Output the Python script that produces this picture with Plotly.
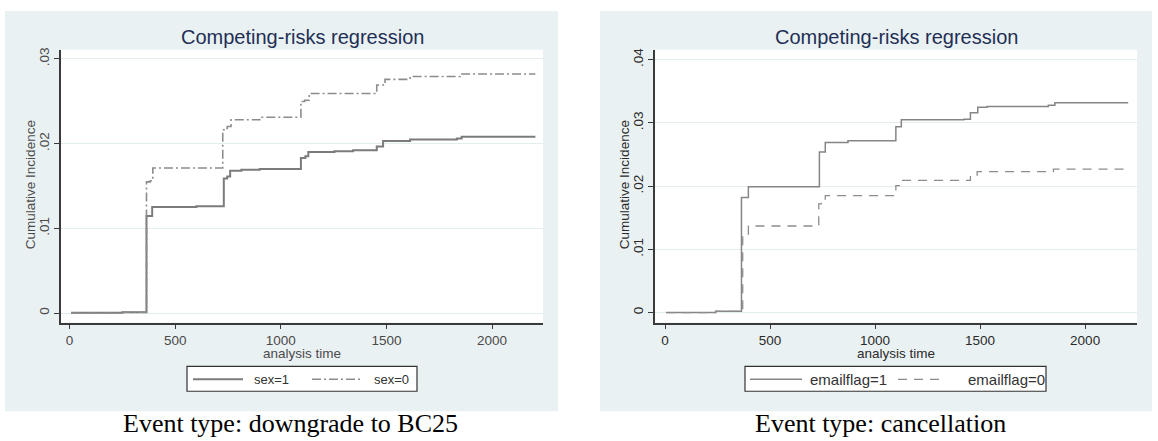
import plotly.graph_objects as go

# ---------------- data ----------------
x_ticks = [0, 500, 1000, 1500, 2000]
x_tick_labels = ["0", "500", "1000", "1500", "2000"]

left_y_ticks = [0, 0.01, 0.02, 0.03]
left_y_labels = ["0", ".01", ".02", ".03"]
right_y_ticks = [0, 0.01, 0.02, 0.03, 0.04]
right_y_labels = ["0", ".01", ".02", ".03", ".04"]

# Event type: downgrade to BC25
sex1_time = [7, 250, 364, 391, 600, 730, 746, 760, 813, 900, 1095, 1116, 1130, 1254, 1342, 1454, 1484, 1612, 1833, 1856, 2205]
sex1_ci = [0.00004, 0.0001, 0.01144, 0.0125, 0.0126, 0.01586, 0.0161, 0.0168, 0.0169, 0.0170, 0.01829, 0.0185, 0.0190, 0.0191, 0.0192, 0.01965, 0.0203, 0.02047, 0.0206, 0.0208, 0.0208]
sex0_time = [7, 250, 364, 382, 394, 725, 746, 764, 900, 1095, 1113, 1134, 1454, 1493, 1612, 1848, 2205]
sex0_ci = [0.0, 0.0001, 0.01547, 0.0156, 0.01712, 0.02162, 0.0220, 0.0228, 0.0231, 0.02495, 0.0251, 0.0259, 0.0269, 0.02757, 0.0279, 0.0282, 0.0282]

# Event type: cancellation
email1_time = [5, 241, 364, 397, 735, 763, 871, 1099, 1125, 1423, 1454, 1489, 1533, 1825, 1856, 2205]
email1_ci = [0.0, 0.0002, 0.0182, 0.0199, 0.0254, 0.0269, 0.0272, 0.0294, 0.0305, 0.0306, 0.0316, 0.0325, 0.0326, 0.0328, 0.0332, 0.0332]
email0_time = [5, 241, 370, 397, 732, 744, 763, 1099, 1123, 1454, 1486, 1849, 2205]
email0_ci = [0.0, 0.0002, 0.0124, 0.0137, 0.0172, 0.0174, 0.0185, 0.0201, 0.0209, 0.0217, 0.0223, 0.0227, 0.0227]

title_text = "Competing-risks regression"
ytitle_text = "Cumulative Incidence"
xtitle_text = "analysis time"
left_legend = ["sex=1", "sex=0"]
right_legend = ["emailflag=1", "emailflag=0"]
captions = ["Event type: downgrade to BC25", "Event type: cancellation"]

# ---------------- layout helpers ----------------
W, H = 1158, 441


def px(x):
    return x / W


def py(y):
    return 1 - y / H


SANS = "Liberation Sans, Arial, sans-serif"
SERIF = "Liberation Serif, Times New Roman, serif"
BG = "#eaf1f3"
GRID = "#e3ecef"
TITLE_C = "#1f2f55"

fig = go.Figure()

fig.add_trace(go.Scatter(x=sex1_time, y=sex1_ci, mode="lines", name=left_legend[0],
                         line=dict(shape="hv", color="#7b7b7b", width=2), xaxis="x", yaxis="y",
                         showlegend=False))
fig.add_trace(go.Scatter(x=sex0_time, y=sex0_ci, mode="lines", name=left_legend[1],
                         line=dict(shape="hv", color="#8c8c8c", width=1.6, dash="9px,3px,2px,3px"),
                         xaxis="x", yaxis="y", showlegend=False))
fig.add_trace(go.Scatter(x=email1_time, y=email1_ci, mode="lines", name=right_legend[0],
                         line=dict(shape="hv", color="#858585", width=1.5), xaxis="x2", yaxis="y2",
                         showlegend=False))
fig.add_trace(go.Scatter(x=email0_time, y=email0_ci, mode="lines", name=right_legend[1],
                         line=dict(shape="hv", color="#8c8c8c", width=1.3, dash="9px,7px"),
                         xaxis="x2", yaxis="y2", showlegend=False))

axis_common = dict(showline=True, linecolor="#3a3a3a", linewidth=1.5, ticks="outside", ticklen=5,
                   tickcolor="#3a3a3a", tickwidth=1.2, zeroline=False, mirror=False)

panels = [
    dict(x0=61, x1=543, xr=[-40.7, 2241], yr=[-0.00112, 0.03106], yt=left_y_ticks, yl=left_y_labels,
         tc="#4a4a4a"),
    dict(x0=655, x1=1137, xr=[-47.6, 2247], yr=[-0.00157, 0.04157], yt=right_y_ticks, yl=right_y_labels,
         tc="#2a2a2a"),
]
PT, PB = 48, 322

layout_axes = {}
for i, p in enumerate(panels):
    sfx = "" if i == 0 else str(i + 1)
    layout_axes["xaxis" + sfx] = dict(axis_common, domain=[px(p["x0"]), px(p["x1"])], range=p["xr"],
                                      anchor="y" + sfx, tickvals=x_ticks, ticktext=x_tick_labels,
                                      showgrid=False, tickfont=dict(family=SANS, size=13.5, color=p["tc"]))
    layout_axes["yaxis" + sfx] = dict(axis_common, domain=[py(PB), py(PT)], range=p["yr"],
                                      anchor="x" + sfx, tickvals=p["yt"], ticktext=p["yl"],
                                      tickangle=-90, showgrid=True, gridcolor=GRID, gridwidth=1,
                                      tickfont=dict(family=SANS, size=13.5, color=p["tc"]))

shapes = []
for (bx0, bx1), p in zip([(5, 558), (600, 1152)], panels):
    shapes.append(dict(type="rect", xref="paper", yref="paper", x0=px(bx0), x1=px(bx1), y0=py(411), y1=py(9),
                       fillcolor=BG, line=dict(width=0), layer="below"))
    shapes.append(dict(type="rect", xref="paper", yref="paper", x0=px(p["x0"]), x1=px(p["x1"]), y0=py(PB),
                       y1=py(PT), fillcolor="white", line=dict(width=0), layer="below"))

annotations = []
for (cx, tc), p in zip([(302, "#4a4a4a"), (896, "#2a2a2a")], panels):
    annotations.append(dict(text=title_text, x=px(cx), y=py(35), xref="paper", yref="paper", showarrow=False,
                            xanchor="center", yanchor="middle", font=dict(family=SANS, size=20, color=TITLE_C)))
    annotations.append(dict(text=xtitle_text, x=px(cx), y=py(353), xref="paper", yref="paper", showarrow=False,
                            xanchor="center", yanchor="middle", font=dict(family=SANS, size=13.5, color=tc)))
    annotations.append(dict(text=ytitle_text, x=px(p["x0"] - 31), y=py(184), xref="paper", yref="paper",
                            showarrow=False, textangle=-90, xanchor="center", yanchor="middle",
                            font=dict(family=SANS, size=13.5, color=tc)))

legend_specs = [
    dict(box=(187, 417), s1=(193, 243), s2=(312, 362), t1=252, t2=372, labels=left_legend, fs=13,
         d1=dict(color="#7b7b7b", width=2), d2=dict(color="#8c8c8c", width=1.6, dash="9px,3px,2px,3px")),
    dict(box=(745, 1046), s1=(750, 802), s2=(898, 942), t1=808, t2=966, labels=right_legend, fs=15,
         d1=dict(color="#858585", width=1.5), d2=dict(color="#8c8c8c", width=1.3, dash="9px,7px")),
]
for L in legend_specs:
    shapes.append(dict(type="rect", xref="paper", yref="paper", x0=px(L["box"][0]), x1=px(L["box"][1]),
                       y0=py(391), y1=py(366), fillcolor="white", line=dict(color="#333333", width=1.2)))
    shapes.append(dict(type="line", xref="paper", yref="paper", x0=px(L["s1"][0]), x1=px(L["s1"][1]),
                       y0=py(379), y1=py(379), line=L["d1"]))
    shapes.append(dict(type="line", xref="paper", yref="paper", x0=px(L["s2"][0]), x1=px(L["s2"][1]),
                       y0=py(379), y1=py(379), line=L["d2"]))
    for tx, lab in zip([L["t1"], L["t2"]], L["labels"]):
        annotations.append(dict(text=lab, x=px(tx), y=py(379), xref="paper", yref="paper", showarrow=False,
                                xanchor="left", yanchor="middle",
                                font=dict(family=SANS, size=L["fs"], color="#333333")))

for cx, cap in zip([290, 880], captions):
    annotations.append(dict(text=cap, x=px(cx), y=py(423), xref="paper", yref="paper", showarrow=False,
                            xanchor="center", yanchor="middle", font=dict(family=SERIF, size=26, color="black")))

fig.update_layout(width=W, height=H, margin=dict(l=0, r=0, t=0, b=0), paper_bgcolor="white",
                  plot_bgcolor="white", showlegend=False, shapes=shapes, annotations=annotations,
                  **layout_axes)

fig.write_html("out.html", config={"displayModeBar": False},
               post_script="document.body.style.margin='0';document.body.style.overflow='hidden';")
